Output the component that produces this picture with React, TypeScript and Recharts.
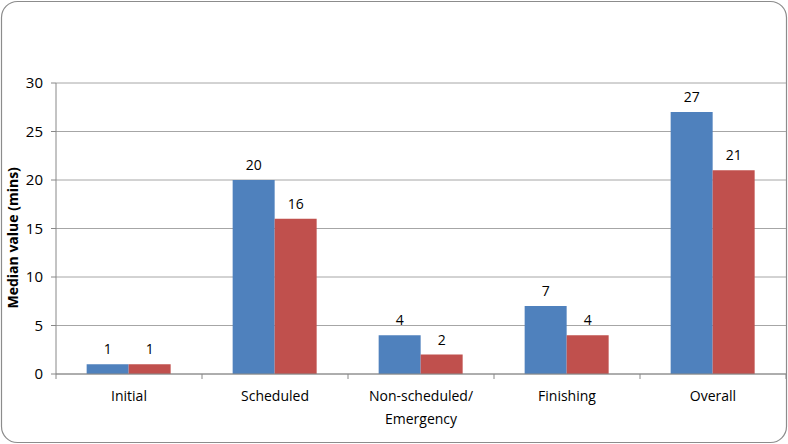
import React from 'react';
import { BarChart, Bar, XAxis, YAxis, CartesianGrid, LabelList } from 'recharts';

const categories = ['Initial', 'Scheduled', 'Non-scheduled/\nEmergency', 'Finishing', 'Overall'];
const seriesA = [1, 20, 4, 7, 27];
const seriesB = [1, 16, 2, 4, 21];
const yTicks = [0, 5, 10, 15, 20, 25, 30];

const data = categories.map((c, i) => ({ name: c, a: seriesA[i], b: seriesB[i] }));

const W = 788;
const H = 444;
const LEFT = 56;
const RIGHT = 2;
const FONT = "'Open Sans', 'Liberation Sans', sans-serif";

const XTick = (props: any) => {
  const { x, y, payload } = props;
  const band = (W - LEFT - RIGHT) / categories.length;
  const lines = String(payload.value).split('\n');
  return (
    <g>
      <line x1={x - band / 2} x2={x - band / 2} y1={y - 8} y2={y - 3} stroke="#888" />
      {payload.index === categories.length - 1 && (
        <line x1={x + band / 2} x2={x + band / 2} y1={y - 8} y2={y - 3} stroke="#888" />
      )}
      {lines.map((l: string, i: number) => (
        <text key={i} x={x} y={y + 19 + i * 23} textAnchor="middle" fontSize={14} fill="#000" fontFamily={FONT}>
          {l}
        </text>
      ))}
    </g>
  );
};

export default function App() {
  return (
    <div style={{ position: 'absolute', left: 0, top: 0, width: W, height: H, background: '#fff' }}>
      <svg width={W} height={H} style={{ position: 'absolute', left: 0, top: 0 }}>
        <rect x={1.5} y={1.5} width={W - 3} height={H - 3} rx={16} ry={16} fill="#fff" stroke="#8c8c8c" strokeWidth={1.2} />
      </svg>
      <div style={{ position: 'absolute', left: 0, top: 0 }}>
        <BarChart
          width={W}
          height={H}
          data={data}
          margin={{ top: 83, right: RIGHT, bottom: 0, left: 0 }}
          barCategoryGap="21%"
          barGap={0}
        >
          <CartesianGrid horizontal vertical={false} stroke="#a6a6a6" strokeWidth={1} />
          <XAxis
            dataKey="name"
            interval={0}
            tickLine={false}
            axisLine={{ stroke: '#888' }}
            tick={<XTick />}
            height={70}
          />
          <YAxis
            width={LEFT}
            domain={[0, 30]}
            ticks={yTicks}
            interval={0}
            tickSize={5}
            tickMargin={8}
            tickLine={{ stroke: '#888' }}
            axisLine={{ stroke: '#888' }}
            tick={{ fill: '#000', fontSize: 15, fontFamily: FONT }}
            label={{
              value: 'Median value (mins)',
              angle: -90,
              position: 'insideLeft',
              dx: 8,
              dy: 80,
              style: { fontWeight: 'bold', fontSize: 14, fill: '#000', fontFamily: FONT },
            }}
          />
          <Bar dataKey="a" fill="#4F81BD" isAnimationActive={false}>
            <LabelList dataKey="a" position="top" offset={10} fill="#000" fontSize={14} fontFamily={FONT} />
          </Bar>
          <Bar dataKey="b" fill="#C0504D" isAnimationActive={false}>
            <LabelList dataKey="b" position="top" offset={10} fill="#000" fontSize={14} fontFamily={FONT} />
          </Bar>
        </BarChart>
      </div>
    </div>
  );
}
